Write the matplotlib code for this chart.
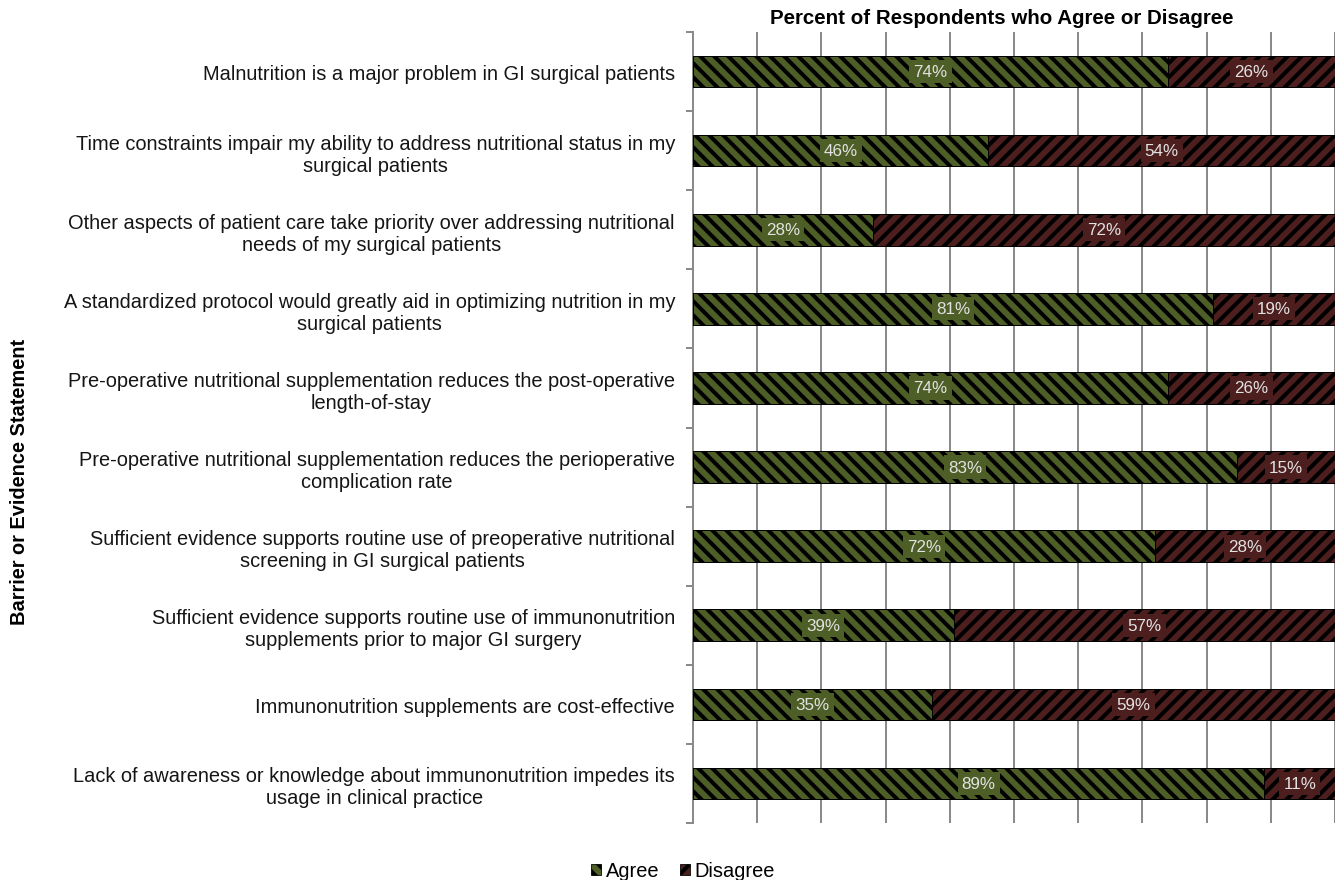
import matplotlib
matplotlib.use("Agg")
import matplotlib.pyplot as plt
from matplotlib.patches import Patch
import numpy as np

statements = [
    "Malnutrition is a major problem in GI surgical patients",
    "Time constraints impair my ability to address nutritional status in my\nsurgical patients",
    "Other aspects of patient care take priority over addressing nutritional\nneeds of my surgical patients",
    "A standardized protocol would greatly aid in optimizing nutrition in my\nsurgical patients",
    "Pre-operative nutritional supplementation reduces the post-operative\nlength-of-stay",
    "Pre-operative nutritional supplementation reduces the perioperative\ncomplication rate",
    "Sufficient evidence supports routine use of preoperative nutritional\nscreening in GI surgical patients",
    "Sufficient evidence supports routine use of immunonutrition\nsupplements prior to major GI surgery",
    "Immunonutrition supplements are cost-effective",
    "Lack of awareness or knowledge about immunonutrition impedes its\nusage in clinical practice",
]
agree = [74, 46, 28, 81, 74, 83, 72, 39, 35, 89]
disagree = [26, 54, 72, 19, 26, 15, 28, 57, 59, 11]

AGREE_COLOR = "#4D5E26"
DISAGREE_COLOR = "#4C1E1E"

# Work at a lower dpi so the hatch spacing is tighter; sizes given in pixels.
DPI = 84
W, H = 1336, 881


def px(n):
    return n * 72.0 / DPI


plt.rcParams["font.family"] = ["Liberation Sans", "DejaVu Sans"]
plt.rcParams["hatch.linewidth"] = px(4.0)

fig = plt.figure(figsize=(W / DPI, H / DPI), dpi=DPI)
ax = fig.add_axes([693 / W, 1 - 824 / H, 642 / W, (824 - 33) / H])

a = np.array(agree, dtype=float)
d = np.array(disagree, dtype=float)
total = a + d
a_pct = a / total * 100
d_pct = d / total * 100
y = np.arange(len(statements))

bar_h = 0.40
ax.barh(y, a_pct, height=bar_h, color=AGREE_COLOR, edgecolor="black",
        hatch="\\\\", linewidth=px(1), zorder=3)
ax.barh(y, d_pct, left=a_pct, height=bar_h, color=DISAGREE_COLOR,
        edgecolor="black", hatch="//", linewidth=px(1), zorder=3)

for yi, av, ap, dv, dp in zip(y, agree, a_pct, disagree, d_pct):
    ax.text(ap / 2, yi, f"{av}%", ha="center", va="center", fontsize=px(17),
            color="#E2E2E2", zorder=4,
            bbox=dict(facecolor=AGREE_COLOR, edgecolor="none", pad=px(4)))
    ax.text(ap + dp / 2, yi, f"{dv}%", ha="center", va="center",
            fontsize=px(17), color="#E2E2E2", zorder=4,
            bbox=dict(facecolor=DISAGREE_COLOR, edgecolor="none", pad=px(4)))

ax.set_xlim(0, 100)
ax.set_ylim(len(statements) - 0.5, -0.5)
ax.set_xticks(np.arange(0, 101, 10))
ax.tick_params(axis="x", length=0, labelbottom=False)
ax.grid(axis="x", color="#8A8A8A", linewidth=px(2), zorder=0)

ax.set_yticks(y)
ax.set_yticklabels(statements, fontsize=px(20), color="#151515",
                   multialignment="center")
ax.tick_params(axis="y", which="major", length=0, pad=px(18))
ax.set_yticks(np.arange(-0.5, len(statements), 1), minor=True)
ax.tick_params(axis="y", which="minor", length=px(7), width=px(2),
               color="#8A8A8A", direction="out")

for side in ("top", "right", "bottom"):
    ax.spines[side].set_visible(False)
ax.spines["left"].set_color("#8A8A8A")
ax.spines["left"].set_linewidth(px(2))

fig.text(1002 / W, 1 - 19 / H, "Percent of Respondents who Agree or Disagree",
         ha="center", va="center", fontsize=px(20.5), fontweight="bold")
fig.text(20 / W, 1 - 482 / H, "Barrier or Evidence Statement", rotation=90,
         ha="center", va="center", fontsize=px(20), fontweight="bold")

handles = [Patch(facecolor=AGREE_COLOR, edgecolor="black", hatch="\\\\",
                 linewidth=px(0.8)),
           Patch(facecolor=DISAGREE_COLOR, edgecolor="black", hatch="//",
                 linewidth=px(0.8))]
fig.legend(handles, ["Agree", "Disagree"], loc="center",
           bbox_to_anchor=(683 / W, 1 - 872 / H), ncol=2, frameon=False,
           fontsize=px(20), handlelength=0.5, handleheight=0.5,
           handletextpad=0.25, columnspacing=1.0)

fig.savefig("out.png", dpi=DPI)
